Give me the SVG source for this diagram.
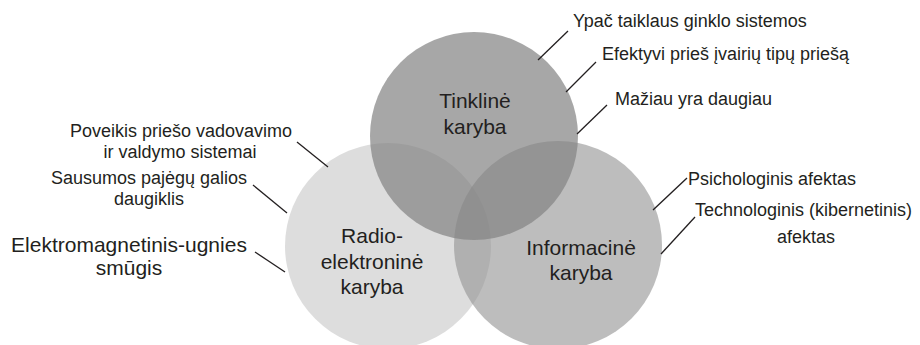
<svg xmlns="http://www.w3.org/2000/svg" width="920" height="345" viewBox="0 0 920 345">
<style>
text{font-family:"Liberation Sans",Arial,sans-serif;fill:#231f20}
.c{font-size:21px;text-anchor:middle}
.s{font-size:18px}
.m{text-anchor:middle}
.e{font-size:21px;text-anchor:middle}
.ln{stroke:#231f20;stroke-width:1.3;fill:none}
</style>
<rect width="920" height="345" fill="#ffffff"/>
<g id="radio-elektronine">
<circle cx="388" cy="246" r="103" fill="#dddddd"/>
</g>
<g id="informacine">
<circle cx="558" cy="245" r="104" fill="#949494" fill-opacity="0.62"/>
</g>
<g id="tinkline">
<circle cx="474" cy="136" r="104" fill="#828282" fill-opacity="0.706"/>
</g>
<g id="labels-center">
<text class="c" x="475" y="108">Tinklinė</text>
<text class="c" x="475" y="134">karyba</text>
<text class="c" x="372" y="243">Radio-</text>
<text class="c" x="372" y="269">elektroninė</text>
<text class="c" x="372" y="294">karyba</text>
<text class="c" x="581" y="255">Informacinė</text>
<text class="c" x="581" y="280">karyba</text>
</g>
<g id="connectors">
<line class="ln" x1="538" y1="60" x2="568" y2="31"/>
<line class="ln" x1="566" y1="92" x2="596" y2="62"/>
<line class="ln" x1="577" y1="134" x2="607" y2="105"/>
<line class="ln" x1="653" y1="210" x2="687" y2="178"/>
<line class="ln" x1="661" y1="254" x2="695" y2="217"/>
<line class="ln" x1="297" y1="142" x2="328" y2="167"/>
<line class="ln" x1="253" y1="185" x2="287" y2="213"/>
<line class="ln" x1="255" y1="252" x2="285" y2="272"/>
</g>
<g id="labels-side">
<text class="s" x="573" y="27">Ypač taiklaus ginklo sistemos</text>
<text class="s" x="602" y="60">Efektyvi prieš įvairių tipų priešą</text>
<text class="s" x="615" y="105">Mažiau yra daugiau</text>
<text class="s" x="688" y="185">Psichologinis afektas</text>
<text class="s" x="695" y="216">Technologinis (kibernetinis)</text>
<text class="s m" x="806" y="243">afektas</text>
<text class="s m" x="181" y="137">Poveikis priešo vadovavimo</text>
<text class="s m" x="180" y="158">ir valdymo sistemai</text>
<text class="s m" x="149" y="184">Sausumos pajėgų galios</text>
<text class="s m" x="149" y="205">daugiklis</text>
<text class="e" x="129" y="252">Elektromagnetinis-ugnies</text>
<text class="e" x="129" y="275">smūgis</text>
</g>
</svg>
